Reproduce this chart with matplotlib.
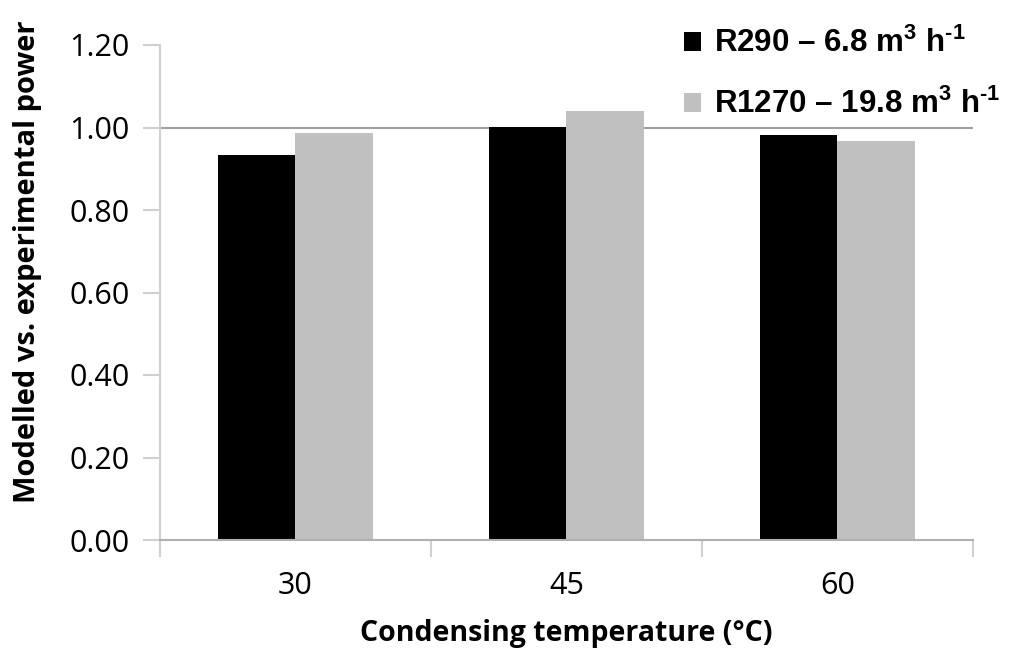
import numpy as np
import matplotlib
matplotlib.use("Agg")
import matplotlib.pyplot as plt

# data
temps = ["30", "45", "60"]
r290 = [0.933, 1.002, 0.982]
r1270 = [0.987, 1.040, 0.968]
series_labels = [r"R290 – 6.8 m$^{3}$ h$^{\text{-1}}$", r"R1270 – 19.8 m$^{3}$ h$^{\text{-1}}$"]
yticks = [0.0, 0.2, 0.4, 0.6, 0.8, 1.0, 1.2]

plt.rcParams["mathtext.fontset"] = "custom"
plt.rcParams["mathtext.default"] = "bf"
plt.rcParams["mathtext.bf"] = "Liberation Sans:bold"
plt.rcParams["mathtext.rm"] = "Liberation Sans:bold"

fig = plt.figure(figsize=(10.12, 6.5), dpi=100)
ax = fig.add_axes([160 / 1012, 110 / 650, 813 / 1012, 495 / 650])

x = np.arange(len(temps))
w = 0.285
b1 = ax.bar(x - w / 2, r290, width=w, color="black", label=series_labels[0])
b2 = ax.bar(x + w / 2, r1270, width=w, color="#c0c0c0", label=series_labels[1])

ax.axhline(1.0, color="#a0a0a0", lw=1.5, zorder=0)

ax.set_xlim(-0.5, len(temps) - 0.5)
ax.set_ylim(0, 1.2)
ax.set_yticks(yticks)
ax.set_yticklabels([f"{v:.2f}" for v in yticks])
ax.set_xticks(x)
ax.set_xticklabels(temps)
ax.set_xticks(np.arange(len(temps) + 1) - 0.5, minor=True)

for s in ["top", "right"]:
    ax.spines[s].set_visible(False)
ax.spines["left"].set_color("#d0d0d0")
ax.spines["left"].set_linewidth(1.5)
ax.spines["bottom"].set_color("#b0b0b0")
ax.spines["bottom"].set_linewidth(1.5)

ax.tick_params(axis="y", length=12, width=1.5, color="#d0d0d0", labelsize=22, pad=10)
ax.tick_params(axis="x", which="major", length=0, labelsize=22, pad=22)
ax.tick_params(axis="x", which="minor", length=12, width=1.5, color="#d0d0d0")
for lab in ax.get_xticklabels() + ax.get_yticklabels():
    lab.set_fontfamily("Open Sans")

ax.set_xlabel("Condensing temperature (°C)", fontsize=20.5, fontweight="bold",
              fontfamily="Open Sans")
ax.xaxis.set_label_coords(0.5, -0.16)
ax.set_ylabel("Modelled vs. experimental power", fontsize=21, fontweight="bold",
              fontfamily="Open Sans")
ax.yaxis.set_label_coords(-0.145, 0.562)

leg = fig.legend(handles=[b1, b2], loc="upper left", bbox_to_anchor=(656 / 1012, 1.0),
                 frameon=False, prop={"family": "Liberation Sans", "weight": "bold", "size": 22.5},
                 handlelength=0.55, handleheight=0.55, handletextpad=0.4, labelspacing=0.95)

fig.savefig("out.png", dpi=100)
